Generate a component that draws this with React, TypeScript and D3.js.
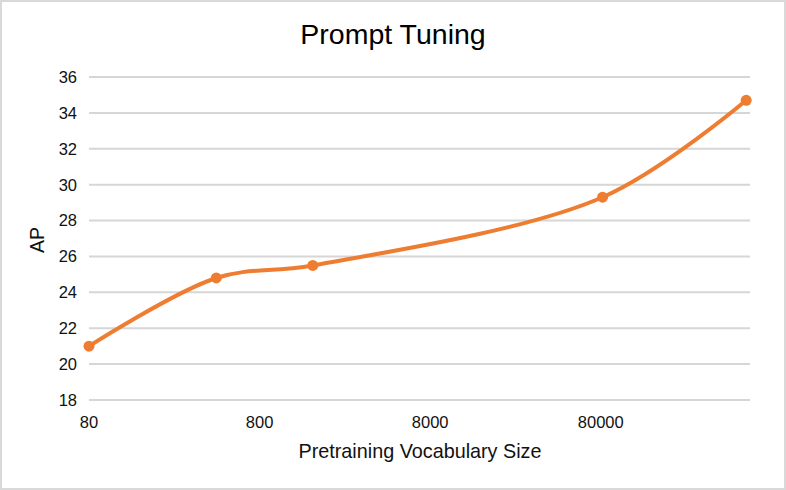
import React, { useEffect, useRef } from "react";
import * as d3 from "d3";

const vocabSizes = [80, 446, 1640, 82000, 570000];
const apValues = [21.0, 24.8, 25.5, 29.3, 34.7];
const xTicks = [80, 800, 8000, 80000];
const yTicks = [18, 20, 22, 24, 26, 28, 30, 32, 34, 36];

const W = 786;
const H = 490;
const plot = { left: 89, right: 750, top: 77, bottom: 400 };
const font = "'Liberation Sans', Arial, Helvetica, sans-serif";
const orange = "#ee7d31";

export default function App() {
    const ref = useRef<SVGSVGElement>(null);

    useEffect(() => {
        const svg = d3.select(ref.current);
        svg.selectAll("*").remove();

        const x = d3
            .scaleLog()
            .domain([80, 600000])
            .range([plot.left, plot.right]);
        const y = d3
            .scaleLinear()
            .domain([18, 36])
            .range([plot.bottom, plot.top]);

        // frame
        svg.append("rect")
            .attr("x", 1)
            .attr("y", 1)
            .attr("width", W - 2)
            .attr("height", H - 2)
            .attr("fill", "#fff")
            .attr("stroke", "#d9d9d9")
            .attr("stroke-width", 2);

        // gridlines + y labels
        const gy = svg.append("g");
        gy.selectAll("line")
            .data(yTicks)
            .join("line")
            .attr("x1", plot.left)
            .attr("x2", plot.right)
            .attr("y1", (d) => y(d))
            .attr("y2", (d) => y(d))
            .attr("stroke", "#d6d6d6")
            .attr("stroke-width", 2);
        gy.selectAll("text")
            .data(yTicks)
            .join("text")
            .attr("x", 77)
            .attr("y", (d) => y(d))
            .attr("dy", "0.36em")
            .attr("text-anchor", "end")
            .style("font", `16.5px ${font}`)
            .attr("fill", "#111")
            .text((d) => d);

        // x labels
        svg.append("g")
            .selectAll("text")
            .data(xTicks)
            .join("text")
            .attr("x", (d) => x(d))
            .attr("y", 428)
            .attr("text-anchor", "middle")
            .style("font", `16.5px ${font}`)
            .attr("fill", "#111")
            .text((d) => d);

        const pts = vocabSizes.map((v, i) => [x(v), y(apValues[i])] as [number, number]);
        const line = d3.line().curve(d3.curveCatmullRom.alpha(0.5));

        svg.append("path")
            .attr("d", line(pts))
            .attr("fill", "none")
            .attr("stroke", orange)
            .attr("stroke-width", 4)
            .attr("stroke-linecap", "round");

        svg.append("g")
            .selectAll("circle")
            .data(pts)
            .join("circle")
            .attr("cx", (d) => d[0])
            .attr("cy", (d) => d[1])
            .attr("r", 5.5)
            .attr("fill", orange);

        // titles
        svg.append("text")
            .attr("x", 393)
            .attr("y", 44)
            .attr("text-anchor", "middle")
            .style("font", `28.5px ${font}`)
            .attr("fill", "#000")
            .text("Prompt Tuning");

        svg.append("text")
            .attr("x", 420)
            .attr("y", 458)
            .attr("text-anchor", "middle")
            .style("font", `19.8px ${font}`)
            .attr("fill", "#111")
            .text("Pretraining Vocabulary Size");

        svg.append("text")
            .attr("transform", "translate(44,240) rotate(-90)")
            .attr("text-anchor", "middle")
            .style("font", `19.5px ${font}`)
            .attr("fill", "#111")
            .text("AP");
    }, []);

    return (
        <svg
            ref={ref}
            width={W}
            height={H}
            style={{ position: "absolute", left: 0, top: 0, display: "block" }}
        />
    );
}
